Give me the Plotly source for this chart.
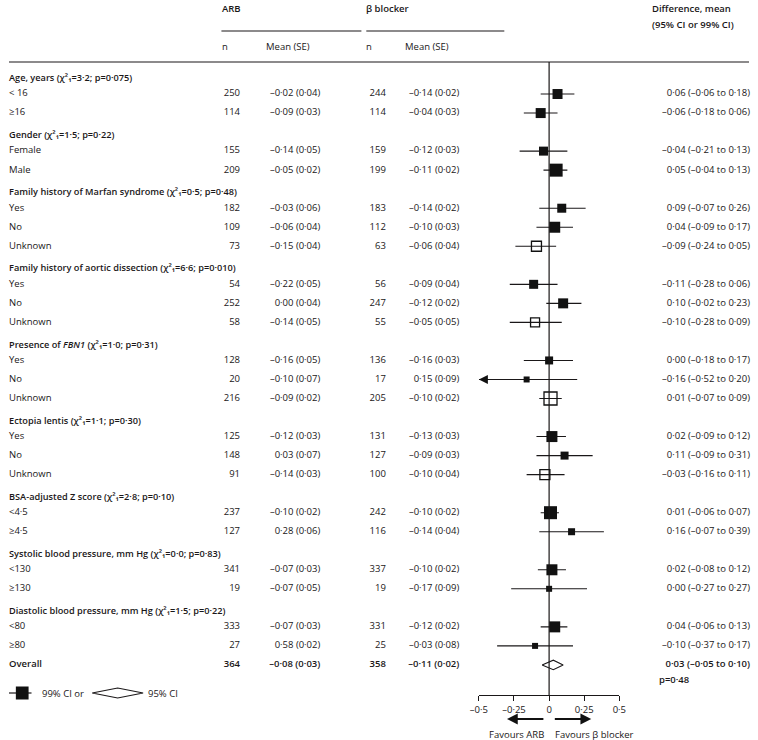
import plotly.graph_objects as go

# ---------------- data ----------------
GROUP_TITLES = [
    "Age, years (χ²₁=3·2; p=0·075)",
    "Gender (χ²₁=1·5; p=0·22)",
    "Family history of Marfan syndrome (χ²₁=0·5; p=0·48)",
    "Family history of aortic dissection (χ²₁=6·6; p=0·010)",
    "Presence of <i>FBN1</i> (χ²₁=1·0; p=0·31)",
    "Ectopia lentis (χ²₁=1·1; p=0·30)",
    "BSA-adjusted Z score (χ²₁=2·8; p=0·10)",
    "Systolic blood pressure, mm Hg (χ²₁=0·0; p=0·83)",
    "Diastolic blood pressure, mm Hg (χ²₁=1·5; p=0·22)",
]
GROUP_LEVELS = [
    ["< 16", "≥16"],
    ["Female", "Male"],
    ["Yes", "No", "Unknown"],
    ["Yes", "No", "Unknown"],
    ["Yes", "No", "Unknown"],
    ["Yes", "No", "Unknown"],
    ["<4·5", "≥4·5"],
    ["<130", "≥130"],
    ["<80", "≥80"],
]
ARB_N = [250, 114, 155, 209, 182, 109, 73, 54, 252, 58, 128, 20, 216,
         125, 148, 91, 237, 127, 341, 19, 333, 27]
ARB_MEAN = [-0.02, -0.09, -0.14, -0.05, -0.03, -0.06, -0.15, -0.22, 0.00, -0.14,
            -0.16, -0.10, -0.09, -0.12, 0.03, -0.14, -0.10, 0.28, -0.07, -0.07,
            -0.07, 0.58]
ARB_SE = [0.04, 0.03, 0.05, 0.02, 0.06, 0.04, 0.04, 0.05, 0.04, 0.05, 0.05, 0.07,
          0.02, 0.03, 0.07, 0.03, 0.02, 0.06, 0.03, 0.05, 0.03, 0.02]
BB_N = [244, 114, 159, 199, 183, 112, 63, 56, 247, 55, 136, 17, 205,
        131, 127, 100, 242, 116, 337, 19, 331, 25]
BB_MEAN = [-0.14, -0.04, -0.12, -0.11, -0.14, -0.10, -0.06, -0.09, -0.12, -0.05,
           -0.16, 0.15, -0.10, -0.13, -0.09, -0.10, -0.10, -0.14, -0.10, -0.17,
           -0.12, -0.03]
BB_SE = [0.02, 0.03, 0.03, 0.02, 0.02, 0.03, 0.04, 0.04, 0.02, 0.05, 0.03, 0.09,
         0.02, 0.03, 0.03, 0.04, 0.02, 0.04, 0.02, 0.09, 0.02, 0.08]
DIFF = [0.06, -0.06, -0.04, 0.05, 0.09, 0.04, -0.09, -0.11, 0.10, -0.10, 0.00, -0.16,
        0.01, 0.02, 0.11, -0.03, 0.01, 0.16, 0.02, 0.00, 0.04, -0.10]
DIFF_LO = [-0.06, -0.18, -0.21, -0.04, -0.07, -0.09, -0.24, -0.28, -0.02, -0.28,
           -0.18, -0.52, -0.07, -0.09, -0.09, -0.16, -0.06, -0.07, -0.08, -0.27,
           -0.06, -0.37]
DIFF_HI = [0.18, 0.06, 0.13, 0.13, 0.26, 0.17, 0.05, 0.06, 0.23, 0.09, 0.17, 0.20,
           0.09, 0.12, 0.31, 0.11, 0.07, 0.39, 0.12, 0.27, 0.13, 0.17]
OVERALL = dict(arb_n=364, arb_mean=-0.08, arb_se=0.03, bb_n=358, bb_mean=-0.11,
               bb_se=0.02, diff=0.03, lo=-0.05, hi=0.10, p="p=0·48")
TICK_VALS = [-0.5, -0.25, 0, 0.25, 0.5]
TICK_TEXT = ["–0·5", "–0·25", "0", "0·25", "0·5"]

# ---------------- style ----------------
MARKER_PX = [10, 10, 9, 13, 9, 11, 10, 9, 10, 9, 8, 6, 13, 11, 8, 10, 13, 7, 11, 6, 11, 6]
INK = "#1a1718"
MARK = "#111111"
FONT = "Open Sans"
FS = 9.5
FS_GROUP = 9.2
W, H = 758, 740
ROW0_PX, ROW_PX = 75.0, 19.03
HEADER_SHIFT = 0.2  # group titles sit slightly closer to their first row
TOP_PX, AXIS_PX = 62.0, 695.0
X_LEFT_PX, X_RIGHT_PX = 480.0, 623.5
COL_RIGHT = 757


def px(x):
    return x / W


def py(y):
    return 1 - y / H


def fmt(v):
    s = f"{abs(v):.2f}".replace(".", "·")
    return ("–" + s) if v < 0 else s


def mse(m, se):
    return f"{fmt(m)} ({fmt(se)})"


def ci(d, lo, hi):
    return f"{fmt(d)} ({fmt(lo)} to {fmt(hi)})"


# row indices
header_rows, sub_rows, sub_labels = [], [], []
r = 0
for title, levels in zip(GROUP_TITLES, GROUP_LEVELS):
    header_rows.append(r + HEADER_SHIFT)
    r += 1
    for lv in levels:
        sub_rows.append(r)
        sub_labels.append(lv)
        r += 1
overall_row = r

fig = go.Figure()

def text_trace(xpos, rows, texts, pos, weight=400, size=FS, xaxis="x2"):
    fig.add_trace(go.Scatter(
        x=[xpos] * len(rows), y=rows, text=texts, mode="text",
        textposition=pos, xaxis=xaxis, yaxis="y", hoverinfo="skip",
        textfont=dict(family=FONT, size=size, color=INK, weight=weight),
        cliponaxis=False))

# Table columns
text_trace(0, header_rows, GROUP_TITLES, "middle right", 600, FS_GROUP)
text_trace(0, sub_rows, sub_labels, "middle right")
text_trace(0, [overall_row], ["Overall"], "middle right", 600)

text_trace(236, sub_rows, [str(n) for n in ARB_N], "middle left")
text_trace(318, sub_rows, [mse(m, s) for m, s in zip(ARB_MEAN, ARB_SE)], "middle left")
text_trace(385, sub_rows, [str(n) for n in BB_N], "middle left")
text_trace(460, sub_rows, [mse(m, s) for m, s in zip(BB_MEAN, BB_SE)], "middle left")
text_trace(COL_RIGHT, sub_rows, [ci(d, l, h) for d, l, h in zip(DIFF, DIFF_LO, DIFF_HI)],
           "middle left")

o = OVERALL
text_trace(236, [overall_row], [str(o["arb_n"])], "middle left", 600)
text_trace(318, [overall_row], [mse(o["arb_mean"], o["arb_se"])], "middle left", 600)
text_trace(385, [overall_row], [str(o["bb_n"])], "middle left", 600)
text_trace(460, [overall_row], [mse(o["bb_mean"], o["bb_se"])], "middle left", 600)
text_trace(COL_RIGHT, [overall_row], [ci(o["diff"], o["lo"], o["hi"])], "middle left", 600)
text_trace(664, [overall_row + 0.84], [o["p"]], "middle right", 600)

# Forest: CI lines
xs, ys = [], []
for rr, lo, hi in zip(sub_rows, DIFF_LO, DIFF_HI):
    xs += [max(lo, TICK_VALS[0]), min(hi, TICK_VALS[-1]), None]
    ys += [rr, rr, None]
fig.add_trace(go.Scatter(x=xs, y=ys, mode="lines", line=dict(color=INK, width=1.1),
                         xaxis="x", yaxis="y", hoverinfo="skip"))

filled = [i for i, lab in enumerate(sub_labels) if lab != "Unknown"]
hollow = [i for i, lab in enumerate(sub_labels) if lab == "Unknown"]
fig.add_trace(go.Scatter(
    x=[DIFF[i] for i in filled], y=[sub_rows[i] for i in filled], mode="markers",
    marker=dict(symbol="square", size=[MARKER_PX[i] for i in filled], color=MARK,
                opacity=1, line=dict(width=0)), xaxis="x", yaxis="y", cliponaxis=False))
fig.add_trace(go.Scatter(
    x=[DIFF[i] for i in hollow], y=[sub_rows[i] for i in hollow], mode="markers",
    marker=dict(symbol="square-open", size=[MARKER_PX[i] for i in hollow], color=MARK,
                opacity=1, line=dict(width=1.3, color=MARK)), xaxis="x", yaxis="y",
    cliponaxis=False))

# Overall diamond
hh = 0.25
fig.add_trace(go.Scatter(
    x=[o["lo"], o["diff"], o["hi"], o["diff"], o["lo"]],
    y=[overall_row, overall_row - hh, overall_row, overall_row + hh, overall_row],
    mode="lines", fill="toself", fillcolor="white", line=dict(color=INK, width=1.1),
    xaxis="x", yaxis="y", hoverinfo="skip"))

# truncated CI arrow
annotations = []
for rr, lo, hi in zip(sub_rows, DIFF_LO, DIFF_HI):
    if lo < TICK_VALS[0]:
        annotations.append(dict(x=TICK_VALS[0], y=rr, ax=TICK_VALS[0] + 0.08, ay=rr,
                                xref="x", yref="y", axref="x", ayref="y", text="",
                                showarrow=True, arrowhead=2, arrowsize=1.5,
                                arrowwidth=1.2, arrowcolor=MARK))

# Favours arrows
for tail, head_x in [(-0.03, -0.30), (0.03, 0.30)]:
    annotations.append(dict(x=head_x, y=py(719), ax=tail, ay=0, xref="x", yref="paper",
                            axref="x", ayref="pixel", text="", showarrow=True,
                            arrowhead=2, arrowsize=1.2, arrowwidth=1.8, arrowcolor=MARK))
annotations.append(dict(x=-0.02, y=py(734), xref="x", yref="paper", text="Favours ARB",
                        showarrow=False, xanchor="right", yanchor="middle",
                        font=dict(family=FONT, size=FS, color=INK)))
annotations.append(dict(x=0.03, y=py(734), xref="x", yref="paper", text="Favours β blocker",
                        showarrow=False, xanchor="left", yanchor="middle",
                        font=dict(family=FONT, size=FS, color=INK)))

# Header texts
def head(x, y, t, weight=400):
    annotations.append(dict(x=px(x), y=py(y), xref="paper", yref="paper", text=t,
                            showarrow=False, xanchor="left", yanchor="middle",
                            font=dict(family=FONT, size=FS, color=INK, weight=weight)))

head(216, 8, "ARB", 600)
head(363, 8, "β blocker", 600)
head(216, 46, "n")
head(261, 46, "Mean (SE)")
head(363, 46, "n")
head(402, 46, "Mean (SE)")
head(655, 8, "Difference, mean", 600)
head(655, 24, "(95% CI or 99% CI)", 600)
head(32, 693, "99% CI or")
head(140, 693, "95% CI")

shapes = [
    dict(type="line", xref="paper", yref="paper", x0=px(0), x1=px(756), y0=py(TOP_PX),
         y1=py(TOP_PX), line=dict(color=INK, width=1.2)),
    dict(type="line", xref="paper", yref="paper", x0=px(217), x1=px(360), y0=py(31),
         y1=py(31), line=dict(color=INK, width=1.2)),
    dict(type="line", xref="paper", yref="paper", x0=px(365), x1=px(506), y0=py(31),
         y1=py(31), line=dict(color=INK, width=1.2)),
    dict(type="line", xref="x", yref="y domain", x0=0, x1=0, y0=0, y1=1,
         line=dict(color=INK, width=1.2)),
    # legend glyphs
    dict(type="line", xref="paper", yref="paper", x0=px(0), x1=px(23), y0=py(693),
         y1=py(693), line=dict(color=INK, width=1.2)),
    dict(type="rect", xref="paper", yref="paper", x0=px(7), x1=px(20), y0=py(699.5),
         y1=py(686.5), fillcolor=MARK, line=dict(width=0)),
    dict(type="path", xref="paper", yref="paper",
         path=f"M {px(85)},{py(693)} L {px(111)},{py(688)} L {px(137)},{py(693)} "
              f"L {px(111)},{py(698)} Z",
         fillcolor="white", line=dict(color=INK, width=1.1)),
]

y_top_row = (TOP_PX - ROW0_PX) / ROW_PX
y_bot_row = (AXIS_PX - ROW0_PX) / ROW_PX

fig.update_layout(
    width=W, height=H, margin=dict(l=0, r=0, t=0, b=0),
    paper_bgcolor="white", plot_bgcolor="rgba(0,0,0,0)", showlegend=False,
    font=dict(family=FONT, size=FS, color=INK),
    xaxis=dict(domain=[px(X_LEFT_PX), px(X_RIGHT_PX)], range=[TICK_VALS[0], TICK_VALS[-1]],
               anchor="y", showline=True, linecolor=INK, linewidth=1.2, ticks="outside",
               ticklen=5, tickcolor=INK, tickwidth=1.2, tickvals=TICK_VALS,
               ticktext=TICK_TEXT, showgrid=False, zeroline=False,
               tickfont=dict(family=FONT, size=FS, color=INK)),
    xaxis2=dict(domain=[0, 1], range=[0, W], anchor="y", visible=False),
    yaxis=dict(domain=[py(AXIS_PX), py(TOP_PX)], range=[y_bot_row, y_top_row],
               visible=False),
    annotations=annotations, shapes=shapes,
)

fig.write_html(
    "out.html",
    config={"displayModeBar": False},
    post_script="document.body.style.margin='0';document.body.style.overflow='hidden';",
)
